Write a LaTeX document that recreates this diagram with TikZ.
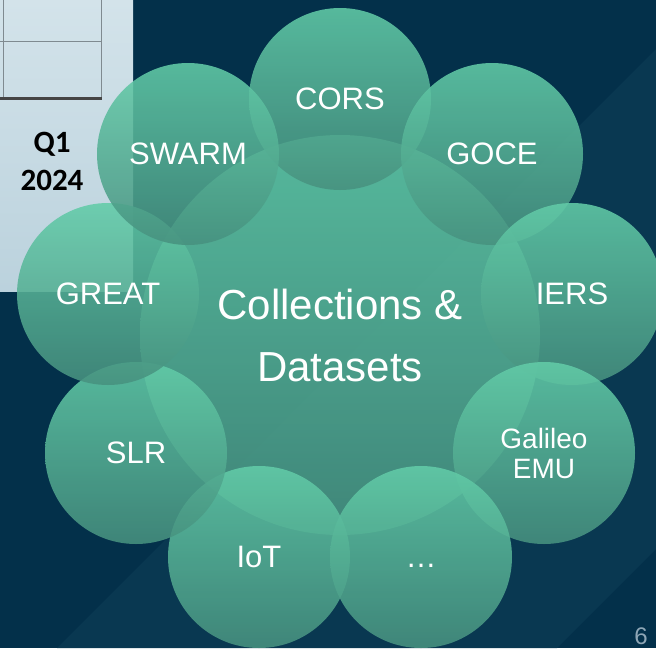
\documentclass[tikz,border=0pt]{standalone}
\usepackage{fontspec}
\setmainfont{Liberation Sans}
\newfontfamily\calibri{Carlito}
\definecolor{bgnavy}{HTML}{03304A}
\definecolor{bgband}{HTML}{093851}
\definecolor{paneltop}{HTML}{D3E3EA}
\definecolor{panelbot}{HTML}{BBD2DD}
\definecolor{gridline}{HTML}{7F8A90}
\definecolor{gridthick}{HTML}{454545}
\definecolor{tealtop}{HTML}{62CCA8}
\definecolor{tealbot}{HTML}{47917F}
\definecolor{pagenum}{HTML}{8EA6B6}
\begin{document}
\begin{tikzpicture}[x=1pt,y=-1pt,
  bubble/.style={circle, minimum size=182pt, inner sep=0pt, shade, top color=tealtop, bottom color=tealbot, fill opacity=0.88, text opacity=1, text=white, font=\fontsize{31}{34}\selectfont, align=center},
  hub/.style={circle, minimum size=400pt, inner sep=0pt, shade, top color=tealtop, bottom color=tealbot, fill opacity=0.88, text opacity=1, text=white, font=\fontsize{42}{62}\selectfont, align=center}]
\useasboundingbox (0,0) rectangle (656,648);
% background
\fill[bgnavy] (0,0) rectangle (656,648);
\fill[bgband] (57,648) -- (656,49) -- (656,549) -- (557,648) -- cycle;
% panel
\shade[top color=paneltop, bottom color=panelbot] (0,0) rectangle (133,291);
\draw[gridline, line width=1pt] (3,0) -- (3,98);
\draw[gridline, line width=1pt] (101,0) -- (101,98);
\draw[gridline, line width=1pt] (0,41) -- (101,41);
\draw[gridthick, line width=3pt] (0,98) -- (102,98);
\node[font=\calibri\bfseries\fontsize{31}{38}\selectfont, align=center] (q) at (52,161) {Q1\\2024};
% hub
\node[hub] (hub) at (340,335) {Collections \&\\Datasets};
% ring of bubbles
\node[bubble] (cors)  at (340,99)  {CORS};
\node[bubble] (goce)  at (492,154) {GOCE};
\node[bubble] (iers)  at (572,294) {IERS};
\node[bubble, font=\fontsize{28}{30}\selectfont] (gal) at (544,453) {Galileo\\EMU};
\node[bubble] (more)  at (421,557) {\vphantom{I}\dots};
\node[bubble] (iot)   at (259,557) {IoT};
\node[bubble] (slr)   at (136,453) {SLR};
\node[bubble] (great) at (108,294) {GREAT};
\node[bubble] (swarm) at (188,154) {SWARM};
% page number
\node[text=pagenum, font=\fontsize{24}{24}\selectfont] (page) at (641,636) {6};
\end{tikzpicture}
\end{document}
